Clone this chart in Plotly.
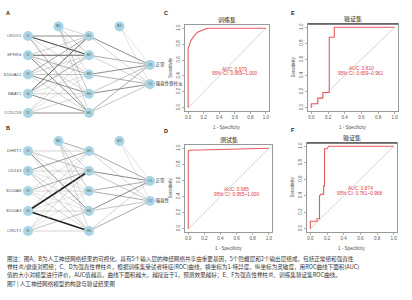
import plotly.graph_objects as go

# ---------------- data ----------------
# Network A
a_inputs = ["CKDV1", "SPRR4", "S100A12", "BAAT1", "CCDC59"]
a_outputs = ["正常", "强直性脊柱炎"]
a_w_ih = [[0.6, 0.8, 0.3, 0.2, 0.5],
          [0.35, 0.7, 0.5, 0.3, 0.6],
          [0.5, 0.3, 0.4, 0.6, 0.3],
          [0.7, 0.5, 0.2, 0.3, 0.6],
          [0.15, 0.3, 0.2, 0.3, 0.6]]
a_w_bh = [0.3, 0.4, 0.2, 0.4, 0.3]
a_w_ho = [[0.6, 0.3], [0.5, 0.3], [0.6, 0.5], [0.4, 0.6], [0.5, 0.4]]
a_w_bo = [0.2, 0.2]

# Network B
b_inputs = ["DHRT1", "CD163", "S100A8", "S100A3", "CRDT1"]
b_outputs = ["正常", "强直性"]
b_w_ih = [[0.3, 0.4, 0.2, 0.6, 0.2],
          [0.55, 0.3, 0.2, 0.3, 0.4],
          [0.2, 0.5, 0.3, 0.2, 0.3],
          [0.3, 1.0, 0.2, 0.3, 1.0],
          [0.2, 0.3, 0.2, 0.4, 0.3]]
b_w_bh = [0.5, 0.3, 0.4, 0.2, 0.3]
b_w_ho = [[0.5, 0.3], [0.6, 0.4], [0.5, 0.5], [0.6, 0.4], [0.3, 0.5]]
b_w_bo = [0.2, 0.2]

# ROC curves
c_fpr = [0, 0, 0.034, 0.067, 0.12, 0.19, 0.25, 1.0]
c_tpr = [0, 0.74, 0.84, 0.89, 0.95, 0.98, 1.0, 1.0]
d_fpr = [0, 0, 0.01, 1.0]
d_tpr = [0, 0.96, 0.975, 1.0]
e_fpr = [0, 0, 0.077, 0.077, 0.138, 0.138, 0.215, 0.215, 0.276, 0.276, 1.0]
e_tpr = [0, 0.05, 0.05, 0.12, 0.12, 0.19, 0.19, 0.875, 0.875, 1.0, 1.0]
f_fpr = [0, 0, 0.01, 0.08, 0.08, 0.11, 0.11, 0.13, 0.16, 0.16, 0.17, 0.17, 0.2, 0.22, 1.0]
f_tpr = [0, 0.09, 0.09, 0.09, 0.12, 0.12, 0.40, 0.42, 0.42, 0.52, 0.52, 0.97, 0.97, 1.0, 1.0]

roc_titles = ["训练集", "测试集", "验证集", "验证集"]
roc_auc = ["AUC: 0.979", "AUC: 0.985", "AUC: 0.810", "AUC: 0.874"]
roc_ci = ["95% CI: 0.959~1.000", "95% CI: 0.955~1.000", "95% CI: 0.659~0.961", "95% CI: 0.761~0.968"]
ticks = [0.0, 0.2, 0.4, 0.6, 0.8, 1.0]

caption = [
    "图注：图A、B为人工神经网络结果的可视化，具有5个输入层的神经网络共享由重要基因，5个隐藏层和2个输出层组成，包括正常组和强直性",
    "脊柱炎/健康对照组；C、D为强直性脊柱炎，根据训练集受试者特征(ROC)曲线，横坐标为1-特异度，纵坐标为灵敏度，用ROC曲线下面积(AUC)",
    "值的大小对模型进行评价，AUC值越高，曲线下面积越大，越接近于1，预测效果越好；E、F为强直性脊柱炎、训练集验证集ROC曲线。",
    "图7 | 人工神经网络模型的构建与验证结果图",
]

W, H = 412, 300
CJK = "Noto Sans CJK SC"
fig = go.Figure()


def edge_style(d):
    g = int(222 - 190 * d)
    return f"rgb({g},{g},{g})", 0.35 + 1.2 * d * d


def add_network(xa, ya, inputs, outputs, w_ih, w_bh, w_ho, w_bo):
    n_in, n_h, n_o = len(inputs), len(w_ih[0]), len(outputs)
    in_y = list(range(n_in))
    h_y = list(range(n_h))
    o_y = [1.5 + k for k in range(n_o)]
    for i in range(n_in):
        for j in range(n_h):
            c, w = edge_style(w_ih[i][j])
            fig.add_trace(go.Scatter(x=[0, 1], y=[in_y[i], h_y[j]], mode="lines",
                                     line=dict(color=c, width=w), xaxis=xa, yaxis=ya,
                                     hoverinfo="skip", showlegend=False))
    for j in range(n_h):
        c, w = edge_style(w_bh[j])
        fig.add_trace(go.Scatter(x=[0.5, 1], y=[-0.5, h_y[j]], mode="lines",
                                 line=dict(color=c, width=w), xaxis=xa, yaxis=ya,
                                 hoverinfo="skip", showlegend=False))
    for j in range(n_h):
        for k in range(n_o):
            c, w = edge_style(w_ho[j][k])
            fig.add_trace(go.Scatter(x=[1, 2], y=[h_y[j], o_y[k]], mode="lines",
                                     line=dict(color=c, width=w), xaxis=xa, yaxis=ya,
                                     hoverinfo="skip", showlegend=False))
    for k in range(n_o):
        c, w = edge_style(w_bo[k])
        fig.add_trace(go.Scatter(x=[1.5, 2], y=[-0.5, o_y[k]], mode="lines",
                                 line=dict(color=c, width=w), xaxis=xa, yaxis=ya,
                                 hoverinfo="skip", showlegend=False))
    nx = [0] * n_in + [1] * n_h + [2] * n_o + [0.5, 1.5]
    ny = in_y + h_y + o_y + [-0.5, -0.5]
    nt = [f"I{i+1}" for i in range(n_in)] + [f"H{j+1}" for j in range(n_h)] + \
         [f"O{k+1}" for k in range(n_o)] + ["B1", "B2"]
    fig.add_trace(go.Scatter(x=nx, y=ny, mode="markers+text", text=nt,
                             textfont=dict(size=3.5, color="#555555", family="Arial"),
                             marker=dict(size=10, color="#AAD5E5", line=dict(width=0)),
                             xaxis=xa, yaxis=ya, hoverinfo="skip", showlegend=False))
    fig.add_trace(go.Scatter(x=[-0.11] * n_in, y=in_y, mode="text", text=inputs,
                             textposition="middle left",
                             textfont=dict(size=4.3, color="#555555", family="Arial"),
                             xaxis=xa, yaxis=ya, hoverinfo="skip", showlegend=False))
    fig.add_trace(go.Scatter(x=[2.09] * n_o, y=o_y, mode="text", text=outputs,
                             textposition="middle right",
                             textfont=dict(size=4.5, color="#333333", family=CJK),
                             xaxis=xa, yaxis=ya, hoverinfo="skip", showlegend=False))


px = 61.0
xr = [-28 / px, (W - 28) / px]
add_network("x5", "y5", a_inputs, a_outputs, a_w_ih, a_w_bh, a_w_ho, a_w_bo)
add_network("x6", "y6", b_inputs, b_outputs, b_w_ih, b_w_bh, b_w_ho, b_w_bo)

boxes = [(185, 269, 25, 111), (185, 272, 145, 232), (308, 398, 24, 111), (307, 397, 143, 232)]
curves = [(c_fpr, c_tpr), (d_fpr, d_tpr), (e_fpr, e_tpr), (f_fpr, f_tpr)]
axn = ["", "2", "3", "4"]
for n, (fx, ty) in enumerate(curves):
    xa, ya = "x" + axn[n], "y" + axn[n]
    fig.add_trace(go.Scatter(x=[0, 1], y=[0, 1], mode="lines",
                             line=dict(color="#CCCCCC", width=0.8), xaxis=xa, yaxis=ya,
                             hoverinfo="skip", showlegend=False))
    fig.add_trace(go.Scatter(x=fx, y=ty, mode="lines",
                             line=dict(color="rgba(228,60,66,0.85)", width=1.1), xaxis=xa, yaxis=ya,
                             hoverinfo="skip", showlegend=False))

layout = dict(width=W, height=H, margin=dict(l=0, r=0, t=0, b=0),
              paper_bgcolor="white", plot_bgcolor="rgba(0,0,0,0)", showlegend=False)
annotations = []


def ann(x, y, text, size, color, family, xanchor="center", textangle=0, xref="paper", yref="paper"):
    annotations.append(dict(x=x, y=y, xref=xref, yref=yref, text=text, showarrow=False,
                            xanchor=xanchor, yanchor="middle", textangle=textangle,
                            font=dict(size=size, color=color, family=family)))


for n, (x0, x1, y0, y1) in enumerate(boxes):
    layout["xaxis" + axn[n]] = dict(domain=[x0 / W, x1 / W], range=[-0.04, 1.04],
                                     anchor="y" + axn[n], showline=True, mirror=True,
                                     linecolor="#999999", linewidth=1, showgrid=False, zeroline=False,
                                     ticks="outside", ticklen=2, tickcolor="#999999", tickwidth=0.8,
                                     tickvals=ticks, tickformat=".1f",
                                     tickfont=dict(size=4.5, color="#555555", family="Arial"))
    layout["yaxis" + axn[n]] = dict(domain=[1 - y1 / H, 1 - y0 / H], range=[-0.04, 1.04],
                                     anchor="x" + axn[n], showline=True, mirror=True,
                                     linecolor="#999999", linewidth=1, showgrid=False, zeroline=False,
                                     ticks="outside", ticklen=2, tickcolor="#999999", tickwidth=0.8,
                                     tickvals=ticks, tickformat=".1f", tickangle=-90,
                                     tickfont=dict(size=4.5, color="#555555", family="Arial"))
    cx = (x0 + x1) / 2 / W
    ann(cx, 1 - (y0 - 6) / H, roc_titles[n], 6, "#222222", CJK)
    ann(cx, 1 - (y1 + 16) / H, "1 - Specificity", 4.5, "#555555", "Arial")
    ann((x0 - 15) / W, 1 - (y0 + y1) / 2 / H, "Sensitivity", 4.5, "#555555", "Arial", textangle=-90)
    ann(0.6, 0.485, roc_auc[n], 4.8, "#E0393F", "Arial", xref="x" + axn[n], yref="y" + axn[n])
    ann(0.6, 0.43, roc_ci[n], 4.8, "#E0393F", "Arial", xref="x" + axn[n], yref="y" + axn[n])
    if n >= 2:
        fig.add_shape(type="line", xref="paper", yref="paper", x0=x0 / W, x1=x1 / W,
                      y0=1 - y0 / H, y1=1 - y0 / H, line=dict(color="#555555", width=1.5))

layout["xaxis5"] = dict(domain=[0, 1], range=xr, visible=False, anchor="y5")
layout["yaxis5"] = dict(domain=[0, 1], range=[(H - 36) / 19.25, -36 / 19.25], visible=False, anchor="x5")
layout["xaxis6"] = dict(domain=[0, 1], range=xr, visible=False, anchor="y6")
layout["yaxis6"] = dict(domain=[0, 1], range=[(H - 151) / 20.0, -151 / 20.0], visible=False, anchor="x6")

for lab, lx, ly in [("A", 8, 13), ("B", 8, 128), ("C", 166, 13), ("D", 166, 131), ("E", 293, 13), ("F", 293, 130)]:
    ann(lx / W, 1 - ly / H, "<b>" + lab + "</b>", 5.5, "#222222", "Arial")

for i, (line, cy) in enumerate(zip(caption, [259, 267, 275, 284])):
    ann(5 / W, 1 - cy / H, line, 5.6, "#333333", CJK, xanchor="left")

layout["annotations"] = annotations
fig.update_layout(**layout)
fig.write_html("out.html", config={"displayModeBar": False, "staticPlot": True},
               post_script="document.body.style.margin='0px';document.body.style.overflow='hidden';")
